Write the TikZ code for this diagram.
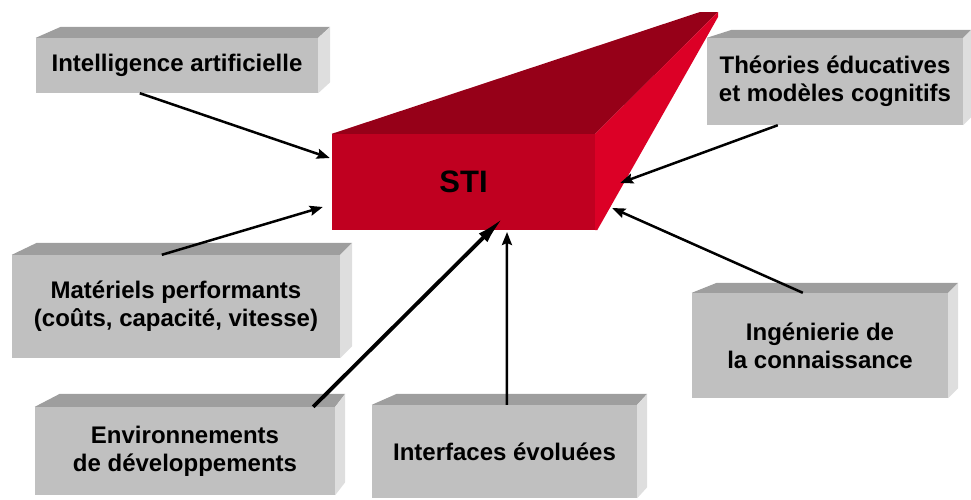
\documentclass[tikz,border=0pt]{standalone}
\usepackage{fontspec}
\setmainfont{Liberation Sans}
\usetikzlibrary{arrows.meta}
\definecolor{boxfront}{RGB}{192,192,192}
\definecolor{boxtop}{RGB}{158,158,158}
\definecolor{boxside}{RGB}{222,222,222}
\definecolor{stifront}{RGB}{192,0,32}
\definecolor{stitop}{RGB}{150,0,24}
\definecolor{stiside}{RGB}{220,0,38}
\tikzset{
  box/.style={fill=boxfront, inner sep=0pt, align=center, text=black,
    font=\fontsize{24}{28}\selectfont\bfseries},
  topface/.style={fill=boxtop},
  sideface/.style={fill=boxside},
  link/.style={line width=2.5pt, -{Stealth[length=13pt,width=10pt,inset=2pt]}},
  biglink/.style={line width=3.8pt, -{Latex[length=28pt,width=12pt]}},
}
\newcommand{\boxfaces}[3]{%
  \fill[topface] (#1.north west) -- (#1.north east) -- ([shift={(#2,-#3)}]#1.north east) -- ([shift={(25,-#3)}]#1.north west) -- cycle;
  \fill[sideface] (#1.north east) -- ([shift={(#2,-#3)}]#1.north east) -- ([shift={(#2,-#3)}]#1.south east) -- (#1.south east) -- cycle;
}
\begin{document}
\begin{tikzpicture}[x=1pt,y=-1pt]
\useasboundingbox (0,0) rectangle (971,499);
% boxes
\node[box, minimum width=282pt, minimum height=55pt] (ia) at (177,65.5) {Intelligence artificielle};
\boxfaces{ia}{12}{11}
\node[box, minimum width=256pt, minimum height=87pt] (th) at (835,81.5) {Théories éducatives\\et modèles cognitifs};
\boxfaces{th}{8}{8}
\node[box, minimum width=328pt, minimum height=103pt] (mp) at (176,306.5) {\raisebox{-6pt}{\parbox{328pt}{\centering Matériels performants\\(coûts, capacité, vitesse)}}};
\boxfaces{mp}{12}{12}
\node[box, minimum width=256pt, minimum height=105pt] (ing) at (820,345.5) {\raisebox{-4pt}{\parbox{256pt}{\centering Ingénierie de\\la connaissance}}};
\boxfaces{ing}{10}{10}
\node[box, minimum width=300pt, minimum height=88pt] (env) at (185,451) {Environnements\\de développements};
\boxfaces{env}{10}{13}
\node[box, minimum width=265pt, minimum height=93pt] (int) at (504.5,451.5) {\raisebox{-5pt}{Interfaces évoluées}};
\boxfaces{int}{10}{11}
% STI block
\node[fill=stifront, inner sep=0pt, minimum width=263pt, minimum height=96pt,
  font=\fontsize{31}{36}\selectfont\bfseries, text=black] (sti) at (463.5,182) {\raisebox{-4pt}{STI}};
\fill[stitop] (sti.north west) -- (sti.north east) -- (718,12) -- (700,12) -- cycle;
\fill[stiside] (sti.north east) -- (718,12) -- (718,17) -- ([shift={(2,0)}]sti.south east) -- (sti.south east) -- cycle;
% connectors
\draw[link] ([shift={(104,0)}]ia.south west) -- ([shift={(-2,-24)}]sti.west);
\draw[link] ([shift={(71,0)}]th.south west) -- ([shift={(25,1)}]sti.east);
\draw[link] ([shift={(150,0)}]mp.north west) -- ([shift={(-9,25)}]sti.west);
\draw[link] ([shift={(111,0)}]ing.north west) -- ([shift={(17,26)}]sti.east);
\draw[link] ([shift={(135,0)}]int.north west) -- ([shift={(43.5,50)}]sti.center);
\draw[biglink] ([shift={(-22,0)}]env.north east) -- ([shift={(39.5,36)}]sti.center);
\end{tikzpicture}
\end{document}
